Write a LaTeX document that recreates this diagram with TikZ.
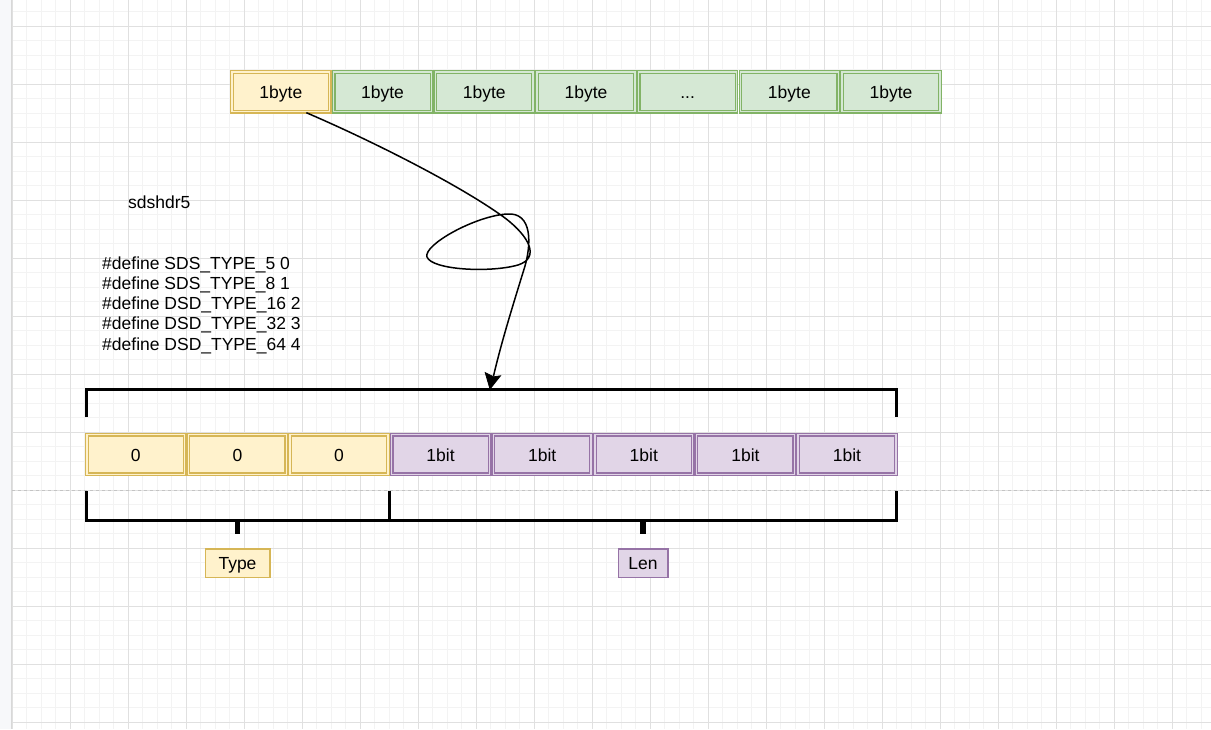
\documentclass[tikz,border=0pt]{standalone}
\usepackage{fontspec}
\setmainfont{Liberation Sans}
\usetikzlibrary{arrows.meta,calc}
\definecolor{yfill}{HTML}{FFF2CC}
\definecolor{yline}{HTML}{D6B656}
\definecolor{gfill}{HTML}{D5E8D4}
\definecolor{gline}{HTML}{82B366}
\definecolor{pfill}{HTML}{E1D5E7}
\definecolor{pline}{HTML}{9673A6}
\definecolor{gridminor}{HTML}{F3F3F3}
\definecolor{gridmajor}{HTML}{E0E0E0}
\definecolor{stripfill}{HTML}{F7F8FA}
\definecolor{stripline}{HTML}{D8D8D8}
\definecolor{dashcol}{HTML}{C4C4C4}
\begin{document}
\begin{tikzpicture}[x=1pt,y=-1pt,
  txt/.style={font=\fontsize{17.5}{20.2}\selectfont, inner sep=0pt},
  cellbase/.style={txt, text height=14pt, text depth=0pt,
    minimum width=97.8pt, minimum height=39.7pt, line width=1.2pt, double distance=1.4pt},
  ycell/.style={cellbase, fill=yfill, draw=yline, double=yfill},
  gcell/.style={cellbase, fill=gfill, draw=gline, double=gfill},
  pcell/.style={cellbase, fill=pfill, draw=pline, double=pfill},
  tagbox/.style={txt, text height=13pt, text depth=0pt, minimum height=28.5pt, line width=1.5pt},
  brace/.style={line width=3pt, line join=miter},
  conn/.style={line width=1.5pt},
  tiphead/.style={fill=black, draw=black, line width=0.8pt, line join=miter},
  gminor/.style={draw=gridminor, line width=1pt},
  gmajor/.style={draw=gridmajor, line width=1pt}]
\useasboundingbox (0,0) rectangle (1211,729);
\fill[white] (0,0) rectangle (1211,729);
% grid
\foreach \i in {0,...,82} \draw[gminor] ({12+14.5*\i},0) -- ({12+14.5*\i},729);
\foreach \j in {1,...,50} \draw[gminor] (12,{-3+14.5*\j}) -- (1211,{-3+14.5*\j});
\foreach \i in {0,...,20} \draw[gmajor] ({12+58*\i},0) -- ({12+58*\i},729);
\foreach \j in {0,...,12} \draw[gmajor] (12,{26+58*\j}) -- (1211,{26+58*\j});
% left strip
\fill[stripfill] (0,0) rectangle (11.5,729);
\draw[stripline, line width=1.2pt] (11.8,0) -- (11.8,729);
% dashed separator
\draw[dashcol, line width=1pt, dash pattern=on 3pt off 3pt] (12,490) -- (1211,490);
% top row
\node[ycell] (t1) at ({230+101.7*0.5},91.75) {1byte};
\node[gcell] (t2) at ({230+101.7*1.5},91.75) {1byte};
\node[gcell] (t3) at ({230+101.7*2.5},91.75) {1byte};
\node[gcell] (t4) at ({230+101.7*3.5},91.75) {1byte};
\node[gcell] (t5) at ({230+101.7*4.5},91.75) {...};
\node[gcell] (t6) at ({230+101.7*5.5},91.75) {1byte};
\node[gcell] (t7) at ({230+101.7*6.5},91.75) {1byte};
% bottom row
\node[ycell] (b1) at ({85+101.6*0.5},454.5) {0};
\node[ycell] (b2) at ({85+101.6*1.5},454.5) {0};
\node[ycell] (b3) at ({85+101.6*2.5},454.5) {0};
\node[pcell] (b4) at ({85+101.6*3.5},454.5) {1bit};
\node[pcell] (b5) at ({85+101.6*4.5},454.5) {1bit};
\node[pcell] (b6) at ({85+101.6*5.5},454.5) {1bit};
\node[pcell] (b7) at ({85+101.6*6.5},454.5) {1bit};
\node[pcell] (b8) at ({85+101.6*7.5},454.5) {1bit};
% top bracket
\draw[brace] (86,417) -- (86,389) -- (896.5,389) -- (896.5,417);
\coordinate (brk) at (490,389);
% bottom brackets
\draw[brace] (86,491) -- (86,520) -- (389.5,520) -- (389.5,491);
\draw[brace] (389.5,491) -- (389.5,520) -- (896.5,520) -- (896.5,491);
\draw[line width=5.5pt] (237.5,520) -- (237.5,533.5);
\draw[line width=5.5pt] (643,520) -- (643,533.5);
% labels
\node[tagbox, fill=yfill, draw=yline, minimum width=64.5pt] (type) at (237.5,563.3) {Type};
\node[tagbox, fill=pfill, draw=pline, minimum width=49.5pt] (len) at (643,563.3) {Len};
% texts
\node[txt, anchor=base west] (title) at (128,208.3) {sdshdr5};
\node[txt, anchor=base west] (d1) at (102,269.2) {\#define SDS\_TYPE\_5 0};
\node[txt, anchor=base west] (d2) at (102,289.45) {\#define SDS\_TYPE\_8 1};
\node[txt, anchor=base west] (d3) at (102,309.7) {\#define DSD\_TYPE\_16 2};
\node[txt, anchor=base west] (d4) at (102,329.95) {\#define DSD\_TYPE\_32 3};
\node[txt, anchor=base west] (d5) at (102,350.2) {\#define DSD\_TYPE\_64 4};
% curved connector
\coordinate (src) at ($(t1.south)+(25.5,0.5)$);
\coordinate (tipbase) at (493.5,376);
\draw[conn] (src) .. controls (370,140) and (460,185) .. (505,218)
  .. controls (530,237) and (540,258) .. (518,265)
  .. controls (490,273) and (432,270) .. (427,257)
  .. controls (423,245) and (475,216) .. (507,214)
  .. controls (533,212) and (531,245) .. (525,266)
  .. controls (513,305) and (502,340) .. (tipbase);
% arrowhead (classic, filled)
\path[tiphead] (brk) -- (485.2,372.6) -- (493.5,376.8) -- (500.5,375.8) -- cycle;
\end{tikzpicture}
\end{document}
